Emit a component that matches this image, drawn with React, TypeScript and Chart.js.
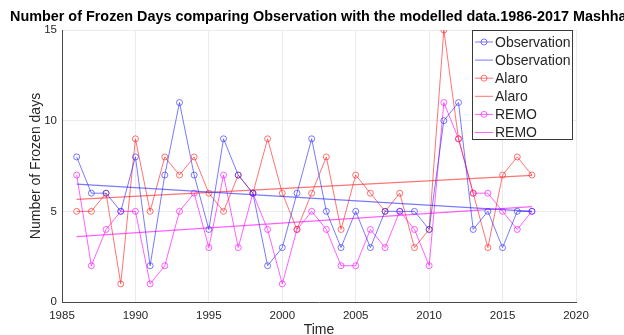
import React, { useEffect, useRef } from "react";
import { Chart, registerables } from "chart.js";

Chart.register(...registerables);

const years = [1986, 1987, 1988, 1989, 1990, 1991, 1992, 1993, 1994, 1995, 1996, 1997, 1998, 1999, 2000, 2001, 2002, 2003, 2004, 2005, 2006, 2007, 2008, 2009, 2010, 2011, 2012, 2013, 2014, 2015, 2016, 2017];
const observation = [8, 6, 6, 5, 8, 2, 7, 11, 7, 4, 9, 7, 6, 2, 3, 6, 9, 5, 3, 5, 3, 5, 5, 5, 4, 10, 11, 4, 5, 3, 5, 5];
const alaro = [5, 5, 6, 1, 9, 5, 8, 7, 8, 6, 5, 7, 6, 9, 6, 4, 6, 8, 4, 7, 6, 5, 6, 3, 4, 15, 9, 6, 3, 7, 8, 7];
const remo = [7, 2, 4, 5, 5, 1, 2, 5, 6, 3, 7, 3, 6, 4, 1, 4, 5, 4, 2, 2, 4, 3, 5, 4, 2, 11, 9, 6, 6, 5, 4, 5];
const trendYears = [1986, 2017];
const observationTrend = [6.5, 5.0];
const alaroTrend = [5.66, 6.98];
const remoTrend = [3.6, 5.26];

const titleText = "Number of Frozen Days comparing Observation with the modelled data.1986-2017 Mashhad";
const FONT = '"Liberation Sans", Arial, sans-serif';
const TEXT = "#262626";

const BLUE = "rgba(40,40,255,0.62)";
const RED = "rgba(255,30,30,0.62)";
const MAGENTA = "rgba(255,0,255,0.62)";

const toPts = (xs: number[], ys: number[]) => xs.map((x, i) => ({ x, y: ys[i] }));

const titlePlugin = {
  id: "matlabTitle",
  afterDraw(chart: any) {
    const ctx = chart.ctx;
    ctx.save();
    ctx.font = `bold 14.4px ${FONT}`;
    ctx.fillStyle = "#000";
    ctx.textBaseline = "middle";
    ctx.textAlign = "left";
    ctx.fillText(titleText, 10, 17);
    ctx.restore();
  },
};

const legendPlugin = {
  id: "insideLegend",
  afterDraw(chart: any) {
    const ctx = chart.ctx;
    const area = chart.chartArea;
    const w = 101;
    const h = 110;
    const left = area.right - w - 3;
    const top = area.top;
    ctx.save();
    ctx.fillStyle = "#fff";
    ctx.fillRect(left, top, w, h);
    ctx.strokeStyle = "#3a3a3a";
    ctx.lineWidth = 1;
    ctx.strokeRect(left + 0.5, top + 0.5, w - 1, h - 1);
    ctx.font = `14px ${FONT}`;
    ctx.textBaseline = "middle";
    ctx.textAlign = "left";
    chart.data.datasets.forEach((ds: any, i: number) => {
      const y = top + 12 + i * 18.1;
      const x0 = left + 3;
      const x1 = left + 21;
      ctx.strokeStyle = ds.borderColor;
      ctx.lineWidth = 1;
      ctx.beginPath();
      ctx.moveTo(x0, y);
      ctx.lineTo(x1, y);
      ctx.stroke();
      if (ds.pointRadius > 0) {
        ctx.beginPath();
        ctx.arc((x0 + x1) / 2, y, 3, 0, Math.PI * 2);
        ctx.stroke();
      }
      ctx.fillStyle = TEXT;
      ctx.fillText(ds.label, left + 23, y + 1);
    });
    ctx.restore();
  },
};

export default function App() {
  const ref = useRef<HTMLCanvasElement | null>(null);
  useEffect(() => {
    if (!ref.current) return;
    const lineDs = (label: string, ys: number[], color: string) => ({
      label,
      data: toPts(years, ys),
      borderColor: color,
      backgroundColor: color,
      borderWidth: 1,
      pointRadius: 3,
      pointBorderWidth: 1,
      pointBackgroundColor: "rgba(0,0,0,0)",
      pointBorderColor: color,
      tension: 0,
    });
    const trendDs = (label: string, ys: number[], color: string) => ({
      label,
      data: toPts(trendYears, ys),
      borderColor: color,
      backgroundColor: color,
      borderWidth: 1.2,
      pointRadius: 0,
      tension: 0,
    });
    const chart = new Chart(ref.current, {
      type: "line",
      data: {
        datasets: [
          lineDs("Observation", observation, BLUE),
          trendDs("Observation", observationTrend, BLUE),
          lineDs("Alaro", alaro, RED),
          trendDs("Alaro", alaroTrend, RED),
          lineDs("REMO", remo, MAGENTA),
          trendDs("REMO", remoTrend, MAGENTA),
        ],
      } as any,
      options: {
        animation: false,
        responsive: false,
        devicePixelRatio: 1,
        layout: { padding: { top: 30, right: 48, bottom: 0, left: 0 } },
        plugins: {
          legend: { display: false },
          title: { display: false },
          tooltip: { enabled: false },
        },
        scales: {
          x: {
            type: "linear",
            min: 1985,
            max: 2020,
            ticks: {
              stepSize: 5,
              callback: (v: any) => String(v),
              font: { size: 11.5, family: FONT },
              color: TEXT,
              padding: 7,
              maxRotation: 0,
            },
            grid: { color: "#ebebeb", drawTicks: false },
            border: { color: "#4a4a4a", width: 1 },
            title: {
              display: true,
              text: "Time",
              font: { size: 14, family: FONT },
              color: TEXT,
              padding: { top: 0, bottom: -4 },
            },
            afterFit: (s: any) => {
              s.height = 33;
            },
          },
          y: {
            type: "linear",
            min: 0,
            max: 15,
            ticks: {
              stepSize: 5,
              font: { size: 11.5, family: FONT },
              color: TEXT,
              padding: 5,
            },
            grid: { color: "#ebebeb", drawTicks: false },
            border: { color: "#4a4a4a", width: 1 },
            title: {
              display: true,
              text: "Number of Frozen days",
              font: { size: 14, family: FONT },
              color: TEXT,
              padding: { top: 28, bottom: 0 },
            },
            afterFit: (s: any) => {
              s.width = 62;
            },
          },
        },
      } as any,
      plugins: [titlePlugin, legendPlugin],
    });
    return () => chart.destroy();
  }, []);
  return (
    <div style={{ position: "absolute", left: 0, top: 0, width: 624, height: 335, background: "#fff" }}>
      <canvas ref={ref} width={624} height={335} />
    </div>
  );
}
